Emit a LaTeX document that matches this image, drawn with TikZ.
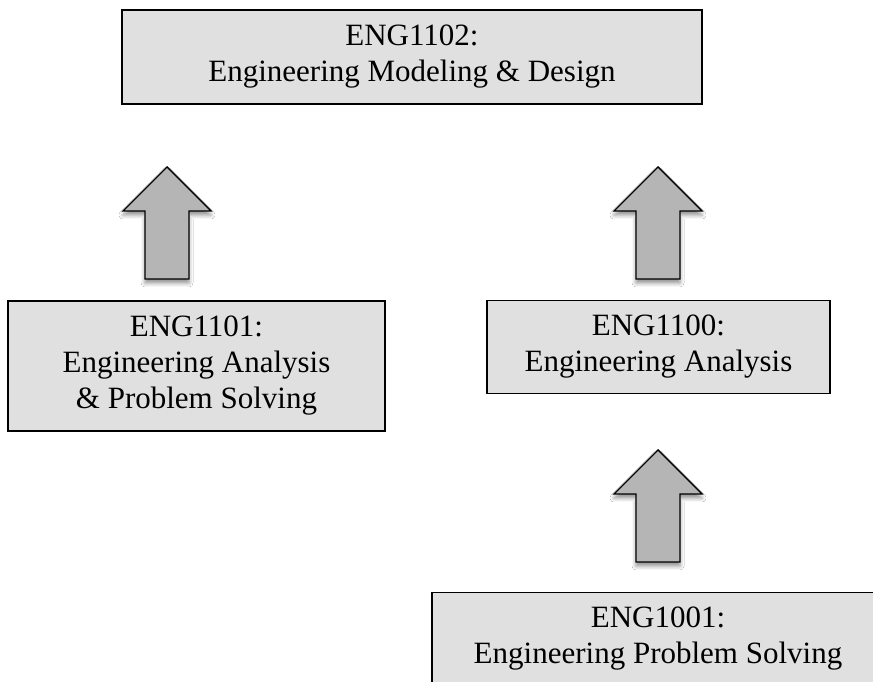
\documentclass[tikz,border=0pt]{standalone}
\usepackage{fontspec}
\setmainfont{Liberation Serif}
\usetikzlibrary{shadows.blur}

\definecolor{boxfill}{RGB}{224,224,224}
\definecolor{arrowfill}{RGB}{181,181,181}

\tikzset{
  course/.style={draw=black, line width=1.8pt, fill=boxfill, align=center,
    inner sep=0pt, font=\fontsize{31}{36}\selectfont},
  blockarrow/.style={draw=black, line width=1.4pt, fill=arrowfill, line join=miter,
    blur shadow={shadow xshift=0pt, shadow yshift=-4pt, shadow blur radius=4pt,
      shadow opacity=45}},
  uparrow/.pic={
    \path[blockarrow] (-22,0) -- (-22,68) -- (-44,68) -- (0,112) -- (44,68)
      -- (22,68) -- (22,0) -- cycle;
  }
}

\begin{document}
\begin{tikzpicture}[x=1pt, y=1pt]
  \clip (0,0) rectangle (873,682);
  \fill[white] (0,0) rectangle (873,682);

  % course boxes
  \node[course, minimum width=580pt, minimum height=94pt] (eng1102) at (412,625)
    {ENG1102:\\Engineering Modeling \& Design};
  \node[course, minimum width=377pt, minimum height=130pt] (eng1101) at (196.5,316)
    {ENG1101:\\Engineering Analysis\\\& Problem Solving};
  \node[course, minimum width=343pt, minimum height=93pt] (eng1100) at (658.5,335)
    {ENG1100:\\Engineering Analysis};
  \node[course, minimum width=452pt, minimum height=93pt] (eng1001) at (658,43)
    {ENG1001:\\Engineering Problem Solving};

  % prerequisite arrows
  \coordinate (a1) at (167,403);
  \coordinate (a2) at (658,403);
  \coordinate (a3) at (658,120);
  \pic at (a1) {uparrow};
  \pic at (a2) {uparrow};
  \pic at (a3) {uparrow};
\end{tikzpicture}
\end{document}
